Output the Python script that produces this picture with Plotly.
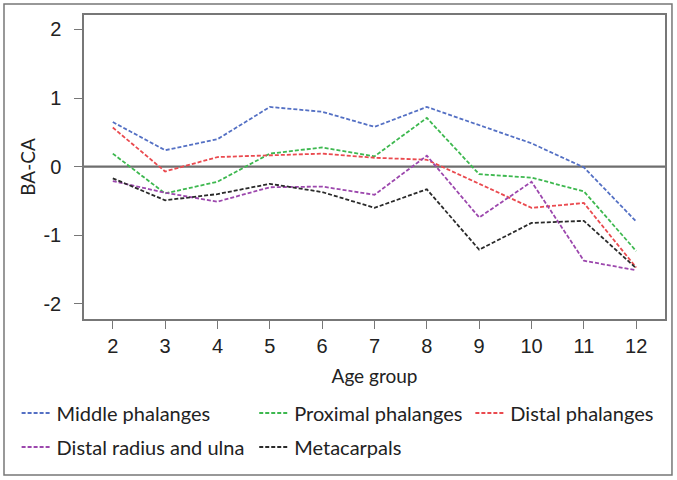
import plotly.graph_objects as go

age_groups = [2, 3, 4, 5, 6, 7, 8, 9, 10, 11, 12]
middle_phalanges = [0.65, 0.24, 0.40, 0.87, 0.80, 0.58, 0.87, 0.60, 0.34, -0.01, -0.80]
proximal_phalanges = [0.19, -0.39, -0.22, 0.19, 0.28, 0.15, 0.71, -0.11, -0.16, -0.36, -1.23]
distal_phalanges = [0.57, -0.07, 0.14, 0.16, 0.19, 0.13, 0.10, -0.25, -0.60, -0.53, -1.47]
distal_radius_ulna = [-0.21, -0.38, -0.51, -0.30, -0.29, -0.41, 0.16, -0.74, -0.22, -1.37, -1.51]
metacarpals = [-0.17, -0.49, -0.40, -0.25, -0.37, -0.60, -0.33, -1.21, -0.82, -0.79, -1.48]
y_ticks = [-2, -1, 0, 1, 2]
y_tick_labels = ["-2", "-1", "0", "1", "2"]
x_ticks = age_groups

series = [
    ("Middle phalanges", middle_phalanges, "#5470c4", "legend"),
    ("Proximal phalanges", proximal_phalanges, "#3db84f", "legend2"),
    ("Distal phalanges", distal_phalanges, "#ea4a4f", "legend3"),
    ("Distal radius and ulna", distal_radius_ulna, "#9c47ad", "legend"),
    ("Metacarpals", metacarpals, "#2a2a2a", "legend2"),
]

fig = go.Figure()
for i, (name, vals, color, leg) in enumerate(series):
    fig.add_trace(go.Scatter(
        x=age_groups, y=vals, name=name, mode="lines",
        line=dict(color=color, width=1.8, dash="4px,2px"),
        legend=leg, legendgroup=f"g{i}",
    ))

legfont = dict(family="Lato", size=20, color="#222")
common = dict(orientation="v", font=legfont, bgcolor="rgba(0,0,0,0)",
              tracegroupgap=5, xanchor="left", yanchor="top", itemwidth=30)

fig.add_shape(type="line", xref="paper", x0=0, x1=1, yref="y", y0=0, y1=0,
              line=dict(color="#6e6e6e", width=2.2), layer="below")
fig.add_shape(type="rect", xref="paper", yref="paper",
              x0=-0.1377, x1=1.012, y0=-0.513, y1=1.036,
              line=dict(color="#777", width=1.5))

fig.update_layout(
    width=677, height=480,
    margin=dict(l=84, r=12, t=15, b=161, autoexpand=False),
    plot_bgcolor="white", paper_bgcolor="white",
    showlegend=True,
    legend=dict(x=-0.116, y=-0.245, **common),
    legend2=dict(x=0.293, y=-0.245, **common),
    legend3=dict(x=0.665, y=-0.245, **common),
    xaxis=dict(
        range=[1.45, 12.55], tickvals=x_ticks, ticks="outside", ticklen=8,
        tickcolor="#777", showline=True, linecolor="#777", linewidth=1.5,
        mirror=True, showgrid=False, zeroline=False,
        tickfont=dict(family="Liberation Sans", size=20, color="#222"),
        title=dict(text="Age group", font=dict(family="Lato", size=19, color="#222"), standoff=14),
    ),
    yaxis=dict(
        range=[-2.22, 2.21], tickvals=y_ticks, ticktext=y_tick_labels,
        ticks="outside", ticklen=8, ticklabelstandoff=9,
        tickcolor="#777", showline=True, linecolor="#777", linewidth=1.5,
        mirror=True, showgrid=False, zeroline=False,
        tickfont=dict(family="Liberation Sans", size=20, color="#222"),
        title=dict(text="BA-CA", font=dict(family="Lato", size=19, color="#222"), standoff=3),
    ),
)

fig.write_html("out.html", config={"displayModeBar": False},
               post_script="document.body.style.margin='0px';document.body.style.overflow='hidden';")
